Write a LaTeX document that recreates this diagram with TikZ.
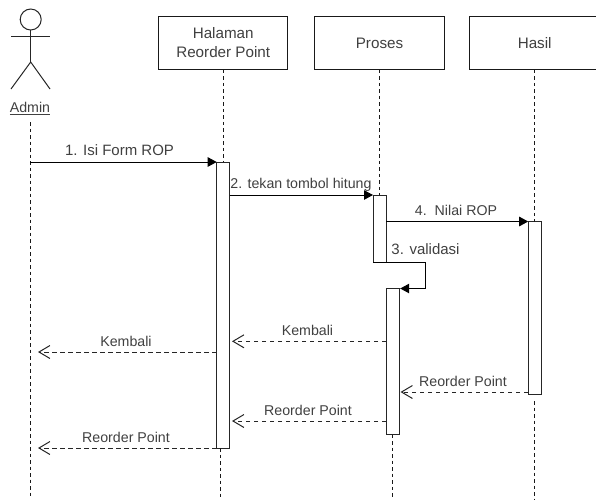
\documentclass[tikz,border=0pt]{standalone}
\usepackage{fontspec}
\setmainfont{Liberation Sans}
\usepackage{tikz}
\usetikzlibrary{arrows.meta}
\definecolor{labelgrey}{HTML}{404040}
\tikzstyle{lifebox} = [draw=black!90, fill=white, line width=1pt, rectangle, outer sep=0pt,
    minimum width=129.5pt, minimum height=53.5pt, align=center, text=labelgrey,
    font=\fontsize{15.2}{19}\selectfont]
\tikzstyle{activation} = [draw=black!85, fill=white, line width=1pt, rectangle, outer sep=0pt,
    inner sep=0pt, minimum width=13pt]
\tikzstyle{lifeline} = [black!90, line width=1pt, dash pattern=on 3.5pt off 3pt]
\tikzstyle{callmsg} = [black, line width=1pt, -{Triangle[length=9pt,width=9.5pt]}]
\tikzstyle{returnmsg} = [black!85, line width=1pt, dash pattern=on 4.5pt off 3.5pt,
    -{Straight Barb[length=11pt,width=13pt,line width=1pt]}]
\tikzstyle{msglabel} = [inner sep=0pt, text=labelgrey, font=\fontsize{14.2}{17}\selectfont]

\begin{document}
\begin{tikzpicture}[x=1pt, y=-1pt]
    \useasboundingbox (0,0) rectangle (596,499);

    % actor
    \node [circle, draw=black!85, line width=1pt, minimum size=21pt, inner sep=0pt, outer sep=0pt] (head) at (30.7,19.5) {};
    \coordinate (hip) at (30.7,62);
    \coordinate (armleft) at (11,36);
    \coordinate (armright) at (50,36);
    \coordinate (footleft) at (11,89);
    \coordinate (footright) at (50,89);
    \draw [black!85, line width=1pt] (head.south) -- (hip);
    \draw [black!85, line width=1pt] (armleft) -- (armright);
    \draw [black!85, line width=1pt] (footleft) -- (hip) -- (footright);
    \node [msglabel] (admin) at (30,108.5) {\underline{Admin}};

    % heads
    \node [lifebox] (halaman) at (223.2,43) {Halaman\\Reorder Point};
    \node [lifebox] (proses) at (379.5,43) {Proses};
    \node [lifebox] (hasil) at (534.7,43) {Hasil};

    % ends of the lifelines
    \coordinate (adminTop) at (30,122);
    \coordinate (adminEnd) at (30,499);
    \coordinate (halamanEnd) at (220.5,499);
    \coordinate (prosesEnd) at (392.7,499);
    \coordinate (hasilStart) at (534.7,401);
    \coordinate (hasilEnd) at (534.7,499);

    % activation bars
    \node [activation, minimum height=286pt] (halamanBar) at (223.2,305) {};
    \node [activation, minimum height=67pt] (prosesBarA) at (379.5,228.5) {};
    \node [activation, minimum height=146pt] (prosesBarB) at (392.7,361.5) {};
    \node [activation, minimum height=173pt] (hasilBar) at (534.7,308) {};

    \draw [lifeline] (adminTop) -- (adminEnd);
    \draw [lifeline] (halaman.south) -- (halamanBar.north);
    \draw [lifeline] (halamanBar.south -| halamanEnd) -- (halamanEnd);
    \draw [lifeline] (proses.south) -- (prosesBarA.north);
    \draw [lifeline] (prosesBarB.south) -- (prosesEnd);
    \draw [lifeline] (hasil.south) -- (hasilBar.north);
    \draw [lifeline] (hasilStart) -- (hasilEnd);

    % calls
    \draw [callmsg] (adminTop |- halamanBar.north) -- (halamanBar.north west);
    \node [msglabel, font=\fontsize{15}{17}\selectfont] (isiform) at (119.5,150) {1. Isi Form ROP};
    \draw [callmsg] (halamanBar.east |- prosesBarA.north) -- (prosesBarA.north west);
    \node [msglabel] (tekan) at (301,185) {2. tekan tombol hitung};
    \draw [callmsg] (prosesBarA.east |- hasilBar.north) -- (hasilBar.north west);
    \node [msglabel] (nilai) at (456,210) {4.\ \ Nilai ROP};

    \coordinate (turnTop) at (425,262);
    \coordinate (turnBottom) at (425,288.5);
    \draw [callmsg] (prosesBarA.south west) -- (turnTop) -- (turnBottom) -- ([xshift=1pt]prosesBarB.north east);
    \node [msglabel, font=\fontsize{15}{17}\selectfont] (validasi) at (425.5,249) {3. validasi};

    % returns
    \coordinate (kembaliA) at (0,341.3);
    \coordinate (kembaliB) at (0,352);
    \coordinate (reorderA) at (0,392);
    \coordinate (reorderB) at (0,421);
    \coordinate (tipAdmin) at (38,0);
    \coordinate (tipHalaman) at (232,0);
    \coordinate (tipProses) at (400.5,0);

    \draw [returnmsg] (prosesBarB.west |- kembaliA) -- (tipHalaman |- kembaliA);
    \node [msglabel] (kembaliAlabel) at (307.5,330.5) {Kembali};
    \draw [returnmsg] (halamanBar.west |- kembaliB) -- (tipAdmin |- kembaliB);
    \node [msglabel] (kembaliBlabel) at (126,341) {Kembali};
    \draw [returnmsg] (hasilBar.west |- reorderA) -- (tipProses |- reorderA);
    \node [msglabel] (reorderAlabel) at (463,381) {Reorder Point};
    \draw [returnmsg] (prosesBarB.west |- reorderB) -- (tipHalaman |- reorderB);
    \node [msglabel] (reorderBlabel) at (308,410) {Reorder Point};
    \draw [returnmsg] (halamanBar.south west) -- (tipAdmin |- halamanBar.south);
    \node [msglabel] (reorderClabel) at (126,437) {Reorder Point};
\end{tikzpicture}
\end{document}
